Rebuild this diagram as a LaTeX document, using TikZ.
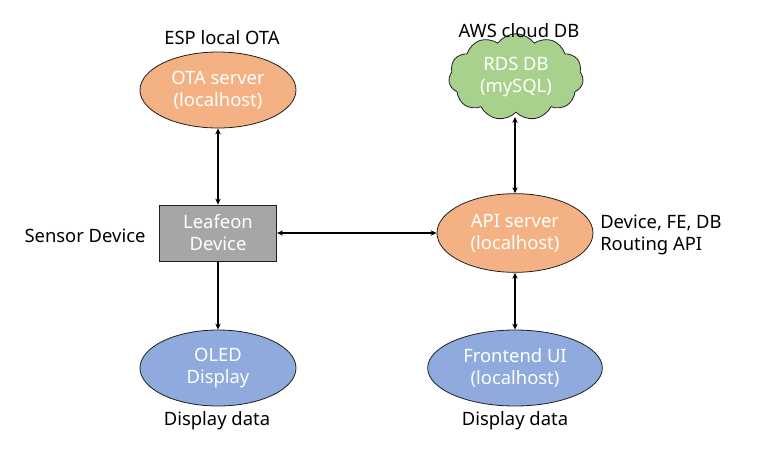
\documentclass[tikz,border=0pt]{standalone}
\usepackage{fontspec}
\setmainfont{Noto Sans}
\usetikzlibrary{shapes.geometric,shapes.symbols,arrows.meta}
\definecolor{orangefill}{HTML}{F4B183}
\definecolor{bluefill}{HTML}{8FAADC}
\definecolor{greenfill}{HTML}{A9D18E}
\definecolor{grayfill}{HTML}{A6A6A6}
\definecolor{edge}{HTML}{1F1F1F}
\tikzset{
  every node/.style={font=\fontsize{13.8}{16.5}\selectfont, align=center, inner sep=0pt},
  ell/.style={ellipse, draw=edge, line width=0.6pt, text=white, minimum width=117pt, minimum height=57pt},
  boxnode/.style={rectangle, draw=edge, line width=0.6pt, fill=grayfill, text=white, minimum width=88pt, minimum height=42pt},
  cloudnode/.style={cloud, cloud puffs=11, cloud puff arc=110, cloud ignores aspect, draw=edge, line width=0.6pt, fill=greenfill, text=white, minimum width=101pt, minimum height=65pt, inner sep=-9pt},
  lbl/.style={text=black},
  conn/.style={line width=0.9pt, {Stealth[length=4.5pt,width=4pt]}-{Stealth[length=4.5pt,width=4pt]}},
  conn1/.style={line width=0.9pt, -{Stealth[length=4.5pt,width=4pt]}}
}
\begin{document}
\begin{tikzpicture}[x=0.75pt,y=-0.75pt]
\useasboundingbox (0,0) rectangle (769,469);
\node[ell, fill=orangefill] (ota) at (218,90) {OTA server\\(localhost)};
\node[lbl] (otalbl) at (222,38) {ESP local OTA};
\node[boxnode] (dev) at (218,233) {Leafeon\\Device};
\node[lbl] (devlbl) at (85,236) {Sensor Device};
\node[ell, fill=bluefill] (oled) at (218,368) {OLED\\Display};
\node[lbl] (oledlbl) at (217,421) {Display data};
\node[cloudnode] (rds) at (516,77) {RDS DB\\(mySQL)};
\node[lbl] (rdslbl) at (519,31) {AWS cloud DB};
\coordinate (rdsb) at (515,117);
\node[ell, fill=orangefill, minimum height=59pt] (api) at (515,233) {API server\\(localhost)};
\node[lbl, anchor=west, align=left] (apilbl) at (600,235) {Device, FE, DB\\Routing API};
\node[ell, fill=bluefill, minimum width=131pt] (fe) at (515,368) {Frontend UI\\(localhost)};
\node[lbl] (felbl) at (515,421) {Display data};
\draw[conn] (ota) -- (dev);
\draw[conn1] (dev) -- (oled);
\draw[conn] (dev) -- (api);
\draw[conn] (api) -- (rdsb);
\draw[conn] (api) -- (fe);
\end{tikzpicture}
\end{document}
